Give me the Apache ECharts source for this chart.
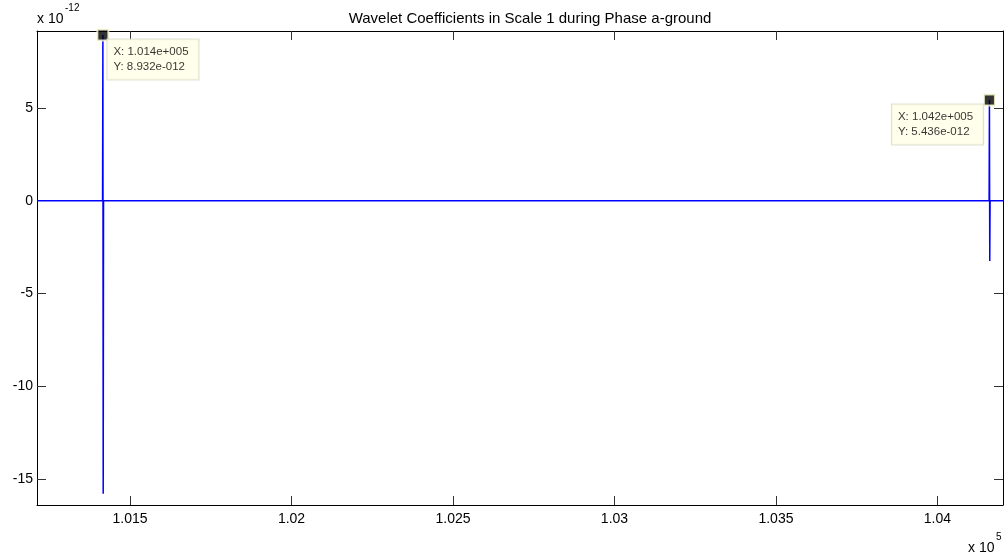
<!DOCTYPE html>
<html>
<head>
<meta charset="utf-8">
<script src="https://cdn.jsdelivr.net/npm/echarts@6/dist/echarts.min.js"></script>
<style>
  html, body { margin: 0; padding: 0; background: #fff; }
  #chart { width: 1005px; height: 559px; }
</style>
</head>
<body>
<div id="chart"></div>
<script>
// Sample index and wavelet coefficient (in units of 1e-12)
const sampleIdx = [101212, 101415, 101416, 101417, 101418, 104160, 104161, 104162, 104163, 104203];
const coeff     = [0,      0,      8.932,  -15.8,  0,      0,      5.436,  -3.25,  0,      0];
const yScaleExp = -12;
const xScaleExp = 5;

// Data-tip points
const tipIdx   = [101416, 104161];
const tipCoeff = [8.932, 5.436];

const xMin = 101212, xMax = 104203;
const yMin = -16.4, yMax = 9.15;
const xTicks = [101500, 102000, 102500, 103000, 103500, 104000];
const yTicks = [-15, -10, -5, 0, 5];

function matlabExp(v) {
  if (v === 0) return '0.000e+000';
  let e = Math.floor(Math.log10(Math.abs(v)));
  let mStr = (v / Math.pow(10, e)).toFixed(3);
  if (Math.abs(parseFloat(mStr)) >= 10) { e += 1; mStr = (v / Math.pow(10, e)).toFixed(3); }
  const sign = e < 0 ? '-' : '+';
  return mStr + 'e' + sign + String(Math.abs(e)).padStart(3, '0');
}

const font = 'Liberation Sans, Arial, Helvetica, sans-serif';
const tickStyle = { color: '#333', width: 1 };

const chart = echarts.init(document.getElementById('chart'), null, { renderer: 'canvas' });

const baseX = {
  type: 'value', min: xMin, max: xMax, splitLine: { show: false },
  axisLine: { show: true, onZero: false, lineStyle: { color: '#000', width: 1 } },
  axisTick: { show: true, inside: true, length: 9, lineStyle: tickStyle, customValues: xTicks },
};
const baseY = {
  type: 'value', min: yMin, max: yMax, splitLine: { show: false },
  axisLine: { show: true, onZero: false, lineStyle: { color: '#000', width: 1 } },
  axisTick: { show: true, inside: true, length: 9, lineStyle: tickStyle, customValues: yTicks },
};

function supText(x, y, base, sup) {
  return [
    { type: 'text', x: x, y: y, style: { text: base, font: '14px ' + font, fill: '#000', verticalAlign: 'middle', align: 'left' } },
    { type: 'text', x: x + 28, y: y - 11, style: { text: sup, font: '10px ' + font, fill: '#000', verticalAlign: 'middle', align: 'left' } }
  ];
}

chart.setOption({
  animation: false,
  backgroundColor: '#fff',
  title: {
    text: 'Wavelet Coefficients in Scale 1 during Phase a-ground',
    left: 525, top: 6, textAlign: 'center',
    textStyle: { fontFamily: font, fontSize: 15, fontWeight: 'normal', color: '#000' }
  },
  grid: { left: 37, right: 2, top: 31, bottom: 54, containLabel: false },
  xAxis: [
    Object.assign({}, baseX, {
      position: 'bottom',
      axisLabel: {
        show: true, margin: 7, color: '#000', fontFamily: font, fontSize: 14,
        customValues: xTicks,
        formatter: v => String(+(v / Math.pow(10, xScaleExp)).toFixed(4))
      }
    }),
    Object.assign({}, baseX, { position: 'top', axisLabel: { show: false } })
  ],
  yAxis: [
    Object.assign({}, baseY, {
      position: 'left',
      axisLabel: {
        show: true, margin: 4, color: '#000', fontFamily: font, fontSize: 14,
        customValues: yTicks,
        formatter: v => String(v)
      }
    }),
    Object.assign({}, baseY, { position: 'right', axisLabel: { show: false } })
  ],
  graphic: [].concat(
    supText(37, 19, 'x 10', String(yScaleExp)),
    supText(968, 548, 'x 10', String(xScaleExp))
  ),
  series: [
    {
      type: 'line',
      data: sampleIdx.map((x, i) => [x, coeff[i]]),
      showSymbol: false,
      lineStyle: { color: '#0000ff', width: 1.5 },
      silent: true
    },
    {
      type: 'scatter',
      symbol: 'rect',
      symbolSize: 11,
      itemStyle: { color: '#000', borderColor: '#ffffd8', borderWidth: 2 },
      label: {
        show: true,
        fontFamily: font, fontSize: 11.5, color: '#000', lineHeight: 15,
        backgroundColor: '#ffffe6', borderColor: '#d8d8c8', borderWidth: 1,
        padding: [5, 10, 5, 6],
        align: 'left', verticalAlign: 'top',
        formatter: p => 'X: ' + matlabExp(p.value[0]) + '\nY: ' + matlabExp(p.value[1] * Math.pow(10, yScaleExp))
      },
      data: [
        { value: [tipIdx[0], tipCoeff[0]], label: { position: [11, 11] } },
        { value: [tipIdx[1], tipCoeff[1]], label: { position: [-91, 11] } }
      ],
      z: 10
    }
  ]
});
</script>
</body>
</html>
